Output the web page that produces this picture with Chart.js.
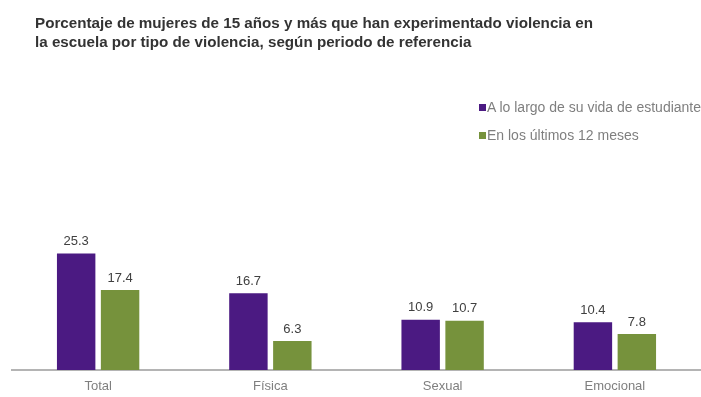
<!DOCTYPE html>
<html>
<head>
<meta charset="utf-8">
<script src="https://cdn.jsdelivr.net/npm/chart.js@4"></script>
<style>
  body { margin: 0; background: #fff; font-family: "Liberation Sans", Arial, sans-serif; }
  #wrap { position: relative; width: 701px; height: 397px; overflow: hidden; }
  #title { position: absolute; left: 35px; top: 13px; font-size: 15.2px; font-weight: bold; color: #333; line-height: 19px; white-space: nowrap; }
  .leg { position: absolute; left: 479px; font-size: 14px; color: #7f7f7f; white-space: nowrap; line-height: 16px; }
  .leg i { display: inline-block; width: 7px; height: 7px; margin-right: 1px; vertical-align: 1px; }
  canvas { position: absolute; left: 0; top: 0; }
</style>
</head>
<body>
<div id="wrap">
  <canvas id="c" width="701" height="397"></canvas>
  <div id="title">Porcentaje de mujeres de 15 años y más que han experimentado violencia en<br>la escuela por tipo de violencia, según periodo de referencia</div>
  <div class="leg" style="top:99px"><i style="background:#4b1a82"></i>A lo largo de su vida de estudiante</div>
  <div class="leg" style="top:127px"><i style="background:#76923c"></i>En los últimos 12 meses</div>
</div>
<script>
const categories = ["Total", "Física", "Sexual", "Emocional"];
const vidaEstudiante = [25.3, 16.7, 10.9, 10.4];
const ultimos12 = [17.4, 6.3, 10.7, 7.8];

// value labels above the bars
const valueLabels = {
  id: "valueLabels",
  afterDatasetsDraw(chart) {
    const ctx = chart.ctx;
    ctx.save();
    ctx.font = "13px 'Liberation Sans', Arial, sans-serif";
    ctx.fillStyle = "#404040";
    ctx.textAlign = "center";
    ctx.textBaseline = "middle";
    chart.data.datasets.forEach((ds, i) => {
      chart.getDatasetMeta(i).data.forEach((bar, j) => {
        ctx.fillText(ds.data[j].toFixed(1), bar.x, bar.y - 12);
      });
    });
    ctx.restore();
  },
};

new Chart(document.getElementById("c").getContext("2d"), {
  type: "bar",
  data: {
    labels: categories,
    datasets: [
      { label: "A lo largo de su vida de estudiante", data: vidaEstudiante, backgroundColor: "#4b1a82" },
      { label: "En los últimos 12 meses", data: ultimos12, backgroundColor: "#76923c" },
    ],
  },
  options: {
    responsive: false,
    animation: false,
    layout: { padding: { left: 12, right: 0, top: 232, bottom: 0 } },
    datasets: { bar: { categoryPercentage: 0.51, barPercentage: 0.875 } },
    scales: {
      x: {
        afterFit(scale) { scale.height = 27; },
        grid: { display: false, drawTicks: false },
        border: { display: true, color: "#b4b4b4", width: 2 },
        ticks: { color: "#7f7f7f", font: { size: 13, family: "'Liberation Sans', Arial, sans-serif" }, padding: 9 },
      },
      y: { display: false, min: 0, max: 30 },
    },
    plugins: {
      legend: { display: false },
      tooltip: { enabled: false },
    },
  },
  plugins: [valueLabels],
});
</script>
</body>
</html>
